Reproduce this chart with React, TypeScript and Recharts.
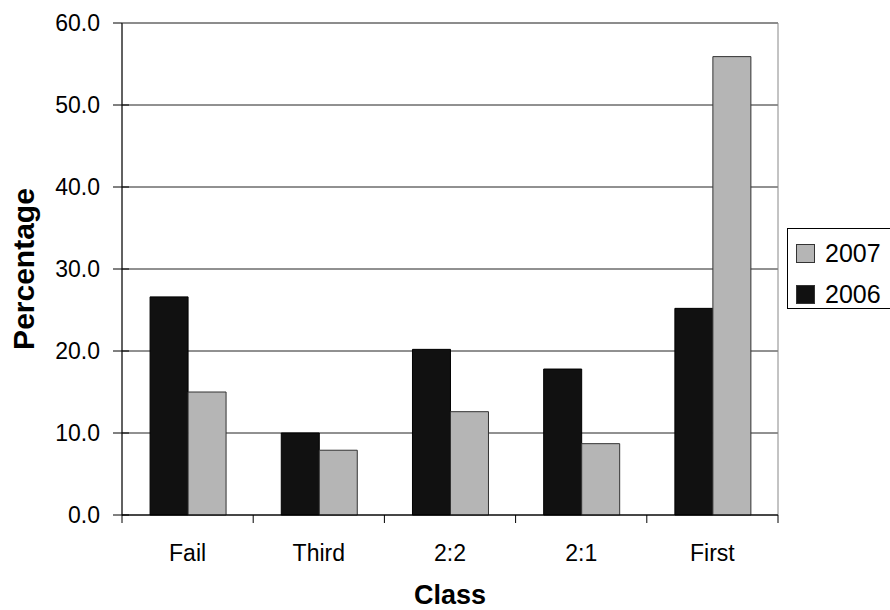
import React from "react";
import {
  Bar,
  BarChart,
  CartesianGrid,
  Legend,
  ReferenceArea,
  XAxis,
  YAxis,
} from "recharts";

const categories = ["Fail", "Third", "2:2", "2:1", "First"];
const values2006 = [26.6, 10.0, 20.2, 17.8, 25.2];
const values2007 = [15.0, 7.9, 12.6, 8.7, 55.9];
const yTicks = [0, 10, 20, 30, 40, 50, 60];

const data = categories.map((name, i) => ({
  name,
  y2006: values2006[i],
  y2007: values2007[i],
}));

const FONT = '"Liberation Sans", Arial, sans-serif';

// category labels, with the tick marks drawn on the band edges
function ClassTick(props: any) {
  const { x, y, payload, index, visibleTicksCount } = props;
  const half = payload?.offset ?? 0;
  const axisY = y - 30;
  return (
    <g>
      {half > 0 && (
        <line x1={x - half} x2={x - half} y1={axisY} y2={axisY + 8} stroke="#000" />
      )}
      {half > 0 && index === visibleTicksCount - 1 && (
        <line x1={x + half} x2={x + half} y1={axisY} y2={axisY + 8} stroke="#000" />
      )}
      <text
        x={x}
        y={y}
        dy="0.71em"
        textAnchor="middle"
        fontSize={23}
        fontFamily={FONT}
        fill="#000"
      >
        {payload.value}
      </text>
    </g>
  );
}

// value labels with a tick that crosses the axis line
function ValueTick(props: any) {
  const { x, y, payload } = props;
  const start = x + 13;
  return (
    <g>
      <line
        x1={start}
        x2={payload.value === 60 ? start + 9 : start + 16}
        y1={y}
        y2={y}
        stroke="#000"
      />
      <text
        x={x}
        y={y}
        dy="0.355em"
        textAnchor="end"
        fontSize={23}
        fontFamily={FONT}
        fill="#000"
      >
        {Number(payload.value).toFixed(1)}
      </text>
    </g>
  );
}

function BoxLegend(props: any) {
  const items = [...(props.payload || [])].reverse();
  return (
    <div
      style={{
        border: "1px solid #000",
        borderRight: "none",
        background: "#fff",
        width: 110,
        height: 81,
        boxSizing: "border-box",
        paddingTop: 4,
        paddingLeft: 8,
        fontFamily: FONT,
      }}
    >
      {items.map((item: any) => (
        <div
          key={item.value}
          style={{ display: "flex", alignItems: "center", height: 41 }}
        >
          <span
            style={{
              display: "inline-block",
              width: 17,
              height: 17,
              background: item.color,
              border: "1px solid #333",
              marginRight: 10,
            }}
          />
          <span style={{ fontSize: 25, color: "#000" }}>{item.value}</span>
        </div>
      ))}
    </div>
  );
}

export default function App() {
  return (
    <div
      style={{
        position: "fixed",
        left: 0,
        top: 0,
        width: 890,
        height: 610,
        overflow: "hidden",
        background: "#fff",
      }}
    >
      <BarChart
        width={890}
        height={610}
        data={data}
        margin={{ top: 23, right: 112, bottom: 0, left: 0 }}
        barCategoryGap="21.4%"
        barGap={0}
      >
        <CartesianGrid vertical={false} stroke="#222" />
        <ReferenceArea y1={0} y2={60} fill="none" stroke="#888" ifOverflow="visible" />
        <XAxis
          dataKey="name"
          height={95}
          tickLine={false}
          tickSize={0}
          tickMargin={30}
          axisLine={{ stroke: "#000" }}
          tick={<ClassTick />}
          interval={0}
          label={{
            value: "Class",
            position: "insideBottom",
            offset: 6,
            style: { fontSize: 27, fontWeight: "bold", fontFamily: FONT, fill: "#000" },
          }}
        />
        <YAxis
          width={122}
          domain={[0, 60]}
          ticks={yTicks}
          tickSize={9}
          tickMargin={13}
          tickLine={false}
          tick={<ValueTick />}
          axisLine={{ stroke: "#000" }}
          label={{
            value: "Percentage",
            angle: -90,
            position: "insideLeft",
            offset: 23,
            style: {
              textAnchor: "middle",
              fontSize: 30,
              fontWeight: "bold",
              fontFamily: FONT,
              fill: "#000",
            },
          }}
        />
        <Legend
          layout="vertical"
          align="center"
          verticalAlign="middle"
          content={<BoxLegend />}
          wrapperStyle={{ left: 787, top: 228, width: 110, height: 81 }}
        />
        <Bar
          dataKey="y2006"
          name="2006"
          fill="#111111"
          stroke="#000"
          strokeWidth={1}
          isAnimationActive={false}
        />
        <Bar
          dataKey="y2007"
          name="2007"
          fill="#b5b5b5"
          stroke="#333"
          strokeWidth={1}
          isAnimationActive={false}
        />
      </BarChart>
    </div>
  );
}
